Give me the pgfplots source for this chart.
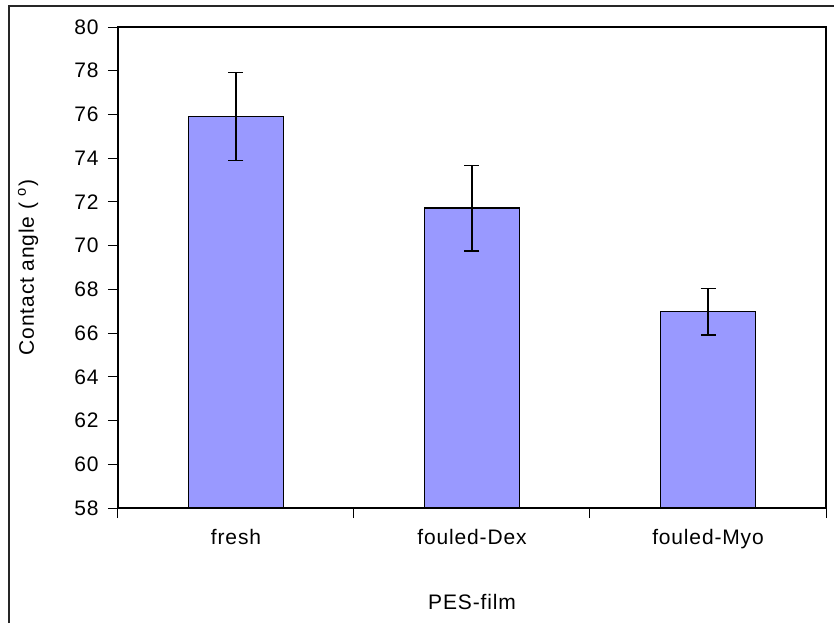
\documentclass[border=0pt]{standalone}
\usepackage{fontspec}
\setmainfont{Liberation Sans}[LetterSpace=4]
\usepackage{pgfplots}
\pgfplotsset{compat=1.18}
\definecolor{barfill}{RGB}{153,153,255}
\begin{document}
\fontsize{10.5}{12}\selectfont
\begin{tikzpicture}
\useasboundingbox (-59pt,-57.5pt) rectangle (359pt,254pt);
\draw[line width=0.6pt, black!85] (-54.5pt,-57.5pt) -- (-54.5pt,251pt) -- (358pt,251pt);
\begin{axis}[
  at={(0pt,0pt)}, anchor=south west,
  scale only axis,
  width=354pt, height=240.5pt,
  xmin=-0.5, xmax=2.5,
  ymin=58, ymax=80,
  ytick={58,60,...,80},
  xtick={-0.5,0.5,1.5,2.5},
  xticklabels={},
  extra x ticks={0,1,2},
  extra x tick labels={fresh,fouled-Dex,fouled-Myo},
  extra x tick style={major tick length=0pt, xticklabel style={yshift=-7pt}},
  xtick pos=bottom, ytick pos=left,
  tick align=outside,
  major tick length=5pt,
  tick style={black, line width=0.5pt},
  axis line style={black, line width=0.6pt},
  /pgf/number format/assume math mode=true,
  ticklabel style={font=\fontsize{10.5}{12}\selectfont},
  yticklabel style={xshift=-1pt},
  xlabel={PES-film},
  ylabel={Contact angle (\ \textsuperscript{o})},
  label style={font=\fontsize{10.5}{12}\selectfont},
  xlabel style={at={(axis description cs:0.5,-0.1954)}, anchor=center},
  ylabel style={at={(axis description cs:-0.1271,0.5)}, anchor=center, rotate=0},
  ybar, bar width=0.4,
  clip=true,
]
\addplot[fill=barfill, draw=black, line width=0.6pt,
  error bars/.cd, y dir=both, y explicit,
  error bar style={black, line width=0.65pt},
  error mark options={black, line width=0.65pt, mark size=3.75pt, rotate=90}]
  coordinates {
  (0,75.9) +- (0,2.02)
  (1,71.72) +- (0,1.96)
  (2,66.98) +- (0,1.07)
};
\end{axis}
\end{tikzpicture}
\end{document}
